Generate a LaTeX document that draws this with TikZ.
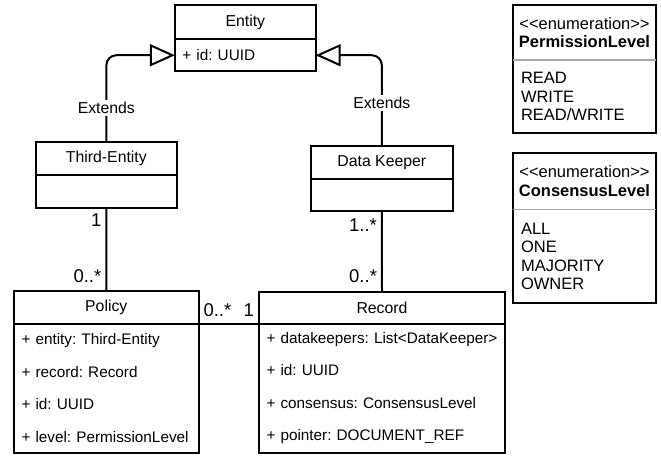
\documentclass[tikz,border=0pt]{standalone}
\usepackage{fontspec}
\setmainfont{Liberation Sans}
\usepackage{tikz}
\usetikzlibrary{positioning}
\usetikzlibrary{arrows.meta}
\usetikzlibrary{calc}
\frenchspacing

\newcommand{\enumtag}{<\kern0pt<enumeration>\kern0pt>}

\tikzset{
    classhead/.style={draw, line width=2pt, inner sep=0pt, outer sep=0pt, font=\fontsize{15.8}{18}\selectfont},
    classbody/.style={draw, line width=2pt, inner xsep=7.5pt, inner ysep=0pt, outer sep=0pt, align=left, font=\fontsize{15.3}{32.5}\selectfont},
    enumhead/.style={inner sep=0pt, outer sep=0pt, align=center, font=\fontsize{16.5}{18.5}\selectfont},
    enumbody/.style={inner xsep=8pt, inner ysep=0pt, outer sep=0pt, align=left, font=\fontsize{16.5}{18.5}\selectfont},
    enumsep/.style={draw=gray!70, line width=1.5pt},
    inherit/.style={line width=2pt, rounded corners=10pt, -{Triangle[open, length=25pt, width=22pt]}},
    assoc/.style={line width=2pt},
    extlabel/.style={fill=white, inner sep=2pt, font=\fontsize{15.8}{18}\selectfont},
    mult/.style={inner sep=4pt, font=\fontsize{18.5}{20}\selectfont}
}

\begin{document}
\begin{tikzpicture}[x=1pt,y=-1pt]
    \useasboundingbox (0,0) rectangle (661,457);

    % Classes
    \node[classhead, minimum width=140.7, minimum height=34] (entity) at (245.3,22) {Entity};
    \node[classbody, minimum width=140.7, text width=125.7, minimum height=32.5, below=0pt of entity] (entitybody) {+ id: UUID};

    \node[classhead, minimum width=140.7, minimum height=32.7] (thirdhead) at (106.35,158.65) {Third-Entity};
    \node[classbody, minimum width=140.7, text width=125.7, minimum height=33.3, below=0pt of thirdhead] (thirdbody) {};

    \node[classhead, minimum width=141.7, minimum height=33.3] (keeperhead) at (381.85,162.35) {Data Keeper};
    \node[classbody, minimum width=141.7, text width=126.7, minimum height=32, below=0pt of keeperhead] (keeperbody) {};

    \node[classhead, minimum width=184.5, minimum height=32.5] (policyhead) at (106.25,307.25) {Policy};
    \node[classbody, minimum width=184.5, text width=169.5, minimum height=129, below=0pt of policyhead] (policybody)
        {+ entity: Third-Entity\\+ record: Record\\+ id: UUID\\\mbox{+ level: PermissionLevel}};

    \node[classhead, minimum width=246, minimum height=32] (recordhead) at (382,307.5) {Record};
    \node[classbody, minimum width=246, text width=231, minimum height=129, below=0pt of recordhead] (recordbody)
        {\mbox{+ datakeepers: List<DataKeeper>}\\+ id: UUID\\+ consensus: ConsensusLevel\\+ pointer: DOCUMENT\_REF};

    % Enumerations
    \node[enumhead, minimum width=143, minimum height=55] (permhead) at (584.5,32.5) {\enumtag\\\textbf{PermissionLevel}};
    \node[enumbody, minimum width=143, text width=127, minimum height=73.3, below=0pt of permhead] (permbody) {READ\\WRITE\\READ/WRITE};
    \draw[line width=2pt] (permhead.north west) rectangle (permbody.south east);
    \draw[enumsep] (permhead.south west) -- (permhead.south east);

    \node[enumhead, minimum width=143, minimum height=56] (conshead) at (584.5,181.3) {\enumtag\\\textbf{ConsensusLevel}};
    \node[enumbody, minimum width=143, text width=127, minimum height=94, below=0pt of conshead] (consbody) {ALL\\ONE\\MAJORITY\\OWNER};
    \draw[line width=2pt] (conshead.north west) rectangle (consbody.south east);
    \draw[enumsep] (conshead.south west) -- (conshead.south east);

    % Inheritance
    \draw[inherit] (thirdhead.north) |- node[extlabel, pos=0.197] {Extends} (entitybody.west);
    \draw[inherit] (keeperhead.north) |- node[extlabel, pos=0.236] {Extends} (entitybody.east);

    % Associations
    \draw[assoc] (thirdbody.south) -- node[mult, pos=0.14, left] {1} node[mult, pos=0.82, left] {0..*} (policyhead.north);
    \draw[assoc] (keeperbody.south) -- node[mult, pos=0.17, left] {1..*} node[mult, pos=0.81, left] {0..*} (recordhead.north);
    \draw[assoc] (policyhead.south east) -- node[mult, pos=0, anchor=south west, yshift=2] {0..*} node[mult, pos=1, anchor=south east, yshift=2] {1} (recordhead.south west);
\end{tikzpicture}
\end{document}
